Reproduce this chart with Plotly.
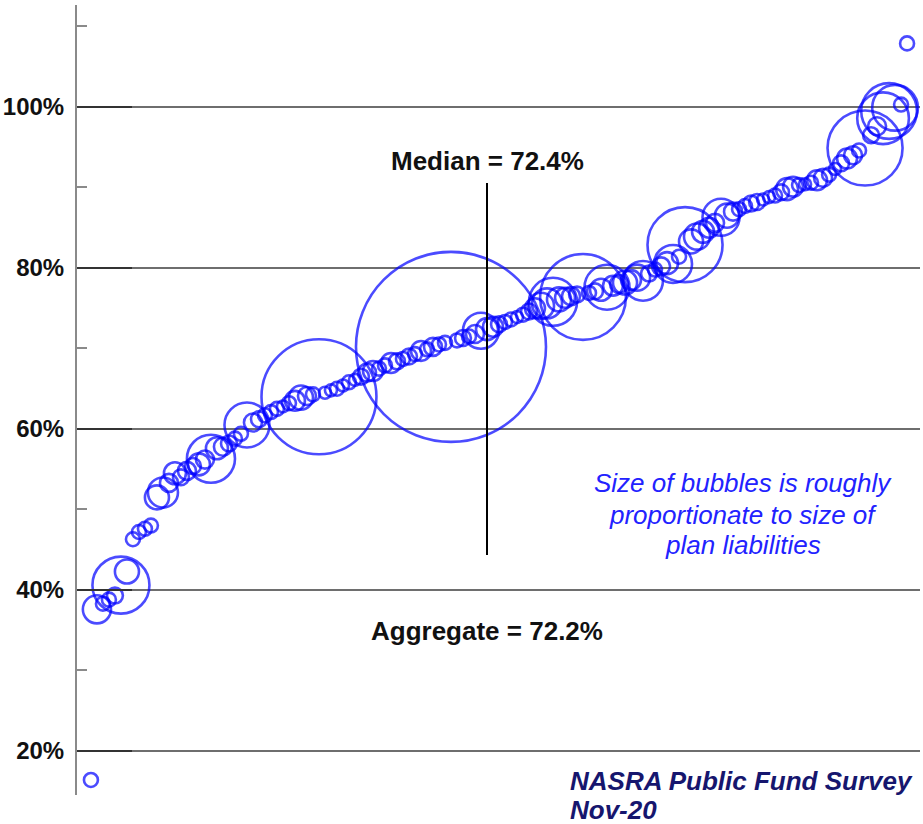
import numpy as np
import plotly.graph_objects as go

# ---- data (plans ranked by funded ratio) ----
funded_ratio = [
    16.4, 37.6, 38.3, 38.8, 39.3, 40.6, 42.3, 46.3, 47.2, 47.6,
    48.0, 51.5, 52.1, 53.3, 54.5, 54.0, 54.8, 55.4, 55.6, 56.2,
    56.3, 57.6, 57.8, 58.2, 58.8, 59.4, 60.5, 60.8, 61.2, 61.7,
    62.1, 62.5, 62.8, 63.2, 63.5, 63.9, 64.1, 64.3, 64.0, 64.5,
    64.8, 65.0, 65.4, 65.8, 66.1, 66.5, 67.0, 67.2, 67.5, 67.9,
    68.2, 68.4, 68.7, 69.0, 69.3, 69.7, 69.9, 70.2, 70.5, 70.7,
    70.2, 71.0, 71.3, 71.5, 71.8, 72.2, 72.4, 72.7, 73.0, 73.3,
    73.6, 73.9, 74.2, 74.6, 75.0, 75.3, 75.6, 75.8, 76.1, 76.3,
    76.5, 76.7, 76.4, 76.9, 77.1, 77.3, 77.6, 77.8, 78.0, 78.2,
    78.5, 78.8, 78.4, 79.3, 79.8, 80.2, 80.6, 80.5, 81.4, 82.9,
    83.3, 83.9, 84.5, 85.0, 85.6, 86.3, 86.5, 87.0, 87.3, 87.7,
    88.0, 88.2, 88.5, 88.8, 89.0, 89.4, 89.8, 90.1, 90.3, 90.4,
    90.6, 90.9, 91.2, 91.6, 92.3, 93.0, 93.6, 94.0, 94.6, 94.9,
    96.5, 97.6, 98.6, 99.5, 99.9, 100.3, 107.9,
]
# plan liabilities, $ billions (approximate)
liabilities = [
    2.7, 11, 2.7, 2.7, 3.5, 45, 8.0, 2.7, 2.7, 2.7,
    2.7, 8.0, 12.5, 4.5, 6.7, 3.5, 4.5, 3.5, 6.7, 4.5,
    32, 6.7, 4.5, 3.5, 2.7, 2.7, 28, 4.5, 3.5, 2.7,
    2.7, 2.7, 2.0, 2.7, 5.5, 8.0, 4.5, 2.7, 183, 2.0,
    2.0, 2.7, 2.0, 2.7, 2.0, 3.5, 4.5, 5.5, 2.7, 2.7,
    5.5, 3.5, 2.7, 3.5, 2.7, 5.5, 2.7, 4.5, 2.7, 2.7,
    500, 2.7, 3.5, 2.7, 4.5, 18, 6.7, 5.5, 3.5, 2.7,
    2.7, 2.0, 2.7, 3.5, 5.5, 9.4, 12.5, 32, 8.0, 5.5,
    4.5, 3.5, 102, 2.7, 3.5, 6.7, 28, 5.5, 4.5, 8.0,
    5.5, 9.4, 22, 3.5, 2.7, 4.5, 6.7, 20, 2.7, 78,
    8.0, 9.4, 6.7, 5.5, 4.5, 19, 8.0, 4.5, 2.7, 2.7,
    3.5, 3.5, 2.0, 2.0, 2.7, 3.5, 6.7, 5.5, 2.7, 2.0,
    2.7, 5.5, 4.5, 2.7, 2.0, 3.5, 5.5, 4.5, 2.7, 78,
    3.5, 4.5, 37, 43, 29, 2.7, 2.7,
]
median_value = 72.4
aggregate_value = 72.2
y_tick_values = [20, 40, 60, 80, 100]
y_tick_labels = ["20%", "40%", "60%", "80%", "100%"]
note_lines = ["Size of bubbles is roughly", "proportionate to size of", "plan liabilities"]
source_lines = ["NASRA Public Fund Survey", "Nov-20"]

# ---- styling / layout ----
W, H = 923, 824
ML, MR, MT, MB = 73, 3, 5, 29
PW, PH = W - ML - MR, H - MT - MB
MAX_BUBBLE_PX = 190
BLUE = "#0000ff"

n = len(funded_ratio)
rank = np.arange(1, n + 1)
liab = np.array(liabilities, dtype=float)
diam = MAX_BUBBLE_PX * np.sqrt(liab / liab.max())

px_per_rank = 820.0 / (n - 1)
x_lo = 1 - 14.0 / px_per_rank
x_hi = x_lo + PW / px_per_rank
y_lo, y_hi = 14.53, 112.67

# median line placed where sorted funded ratio reaches median value
median_x = float(np.interp(median_value, np.sort(funded_ratio), rank))

fig = go.Figure()
fig.add_trace(go.Scatter(
    x=rank, y=funded_ratio, mode="markers",
    marker=dict(size=diam, sizemode="diameter", color="rgba(0,0,0,0)",
                line=dict(color=BLUE, width=2.6)),
    hoverinfo="skip", showlegend=False,
))

fig.add_shape(type="line", x0=median_x, x1=median_x, y0=44.35, y1=90.56,
              xref="x", yref="y", line=dict(color="black", width=2))

def px2paper(xp, yp):
    return (xp - ML) / PW, (H - MB - yp) / PH

bold_font = dict(family="Liberation Sans", size=26, color="#111", weight="bold")
annos = []
annos.append(dict(x=median_x, y=93.3, xref="x", yref="y",
                  text=f"Median = {median_value:.1f}%", showarrow=False,
                  font=bold_font, xanchor="center", yanchor="middle"))
annos.append(dict(x=median_x, y=34.9, xref="x", yref="y",
                  text=f"Aggregate = {aggregate_value:.1f}%", showarrow=False,
                  font=bold_font, xanchor="center", yanchor="middle"))
for line, yp in zip(note_lines, [483, 515, 545]):
    nx, ny = px2paper(742, yp)
    annos.append(dict(x=nx, y=ny, xref="paper", yref="paper", text=line,
                      showarrow=False,
                      font=dict(family="Liberation Sans", size=26, color="#2222ff",
                                style="italic"),
                      xanchor="center", yanchor="middle"))
for line, yp in zip(source_lines, [781, 810]):
    sx, sy = px2paper(566, yp)
    annos.append(dict(x=sx, y=sy, xref="paper", yref="paper", text=line,
                      showarrow=False,
                      font=dict(family="Liberation Sans", size=26, color="#16166e",
                                style="italic", weight="bold"),
                      xanchor="left", yanchor="middle"))

fig.update_layout(
    width=W, height=H, autosize=False,
    margin=dict(l=ML, r=MR, t=MT, b=MB, pad=0),
    plot_bgcolor="white", paper_bgcolor="white",
    annotations=annos,
    xaxis=dict(range=[x_lo, x_hi], visible=False, showgrid=False, zeroline=False),
    yaxis=dict(
        range=[y_lo, y_hi], tickvals=y_tick_values, ticktext=y_tick_labels,
        showgrid=True, gridcolor="#6e6e6e", gridwidth=2,
        zeroline=False, showline=True, linecolor="#8a8a8a", linewidth=2,
        ticks="inside", ticklen=55, tickcolor="#333333", tickwidth=2,
        ticklabelstandoff=6,
        tickfont=dict(family="Liberation Sans", size=24, color="#111", weight="bold"),
        minor=dict(dtick=10, tick0=10, ticks="inside", ticklen=10,
                   tickcolor="#8a8a8a", tickwidth=2, showgrid=False),
    ),
)

fig.write_html("out.html", config={"displayModeBar": False},
               post_script="document.body.style.margin='0';")
